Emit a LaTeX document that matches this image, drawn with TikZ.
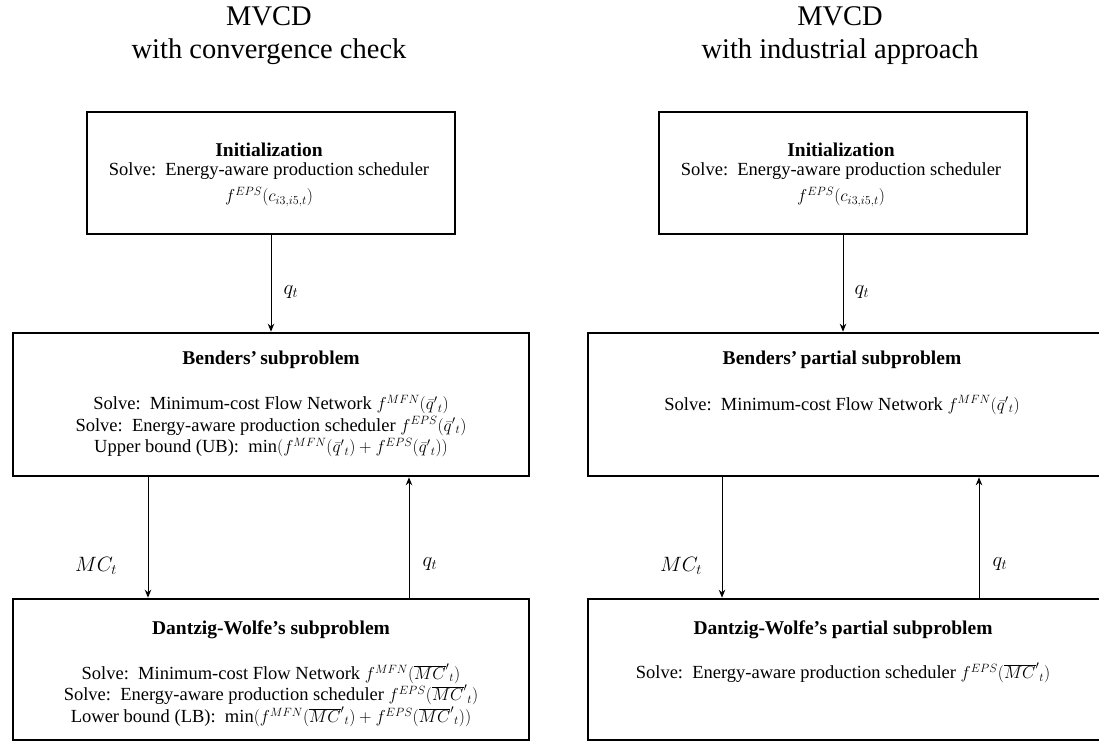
\documentclass[tikz,border=0pt]{standalone}
\usepackage{fontspec}
\setmainfont{Liberation Serif}
\usetikzlibrary{arrows.meta,calc}

\tikzset{
  box/.style={draw, line width=2.6pt, inner sep=0pt},
  ttl/.style={align=center, font=\fontsize{28.5}{33}\selectfont, inner sep=0pt},
  head/.style={font=\fontsize{19.5}{22}\selectfont\bfseries, inner sep=0pt},
  body/.style={align=center, font=\fontsize{18.5}{21.5}\selectfont, inner sep=0pt},
  lbl/.style={font=\fontsize{20}{22}\selectfont, inner sep=0pt},
  flow/.style={line width=1pt, -{Stealth[length=8pt,width=6.5pt]}}
}

\newcommand{\qb}{\bar{q}'{}_{t}}
\newcommand{\mcb}{\overline{MC}'{}_{t}}

\begin{document}
\begin{tikzpicture}[x=1pt,y=-1pt]
\clip (0,0) rectangle (1099,742);
\fill[white] (0,0) rectangle (1099,742);

% ---------------- left column: convergence check ----------------
\node[ttl] (titleL) at (269,36) {MVCD\\with convergence check};

\node[box, minimum width=368pt, minimum height=122pt] (initL) at (271,173) {};
\node[head] (initLh) at (269,150) {Initialization};
\node[body] (initLa) at (269,171) {Solve:\ \ Energy-aware production scheduler};
\node[body] (initLb) at (269,197) {$f^{EPS}(c_{i3,i5,t})$};

\node[box, minimum width=516pt, minimum height=143pt] (bendL) at (271,404.5) {};
\node[head] (bendLh) at (271,360) {Benders'\,subproblem};
\node[body] (bendLb) at (271,426) {Solve:\ \ Minimum-cost Flow Network $f^{MFN}(\qb)$\\
  Solve:\ \ Energy-aware production scheduler $f^{EPS}(\qb)$\\
  Upper bound (UB):\ \ $\min(f^{MFN}(\qb)+f^{EPS}(\qb))$};

\node[box, minimum width=516pt, minimum height=141pt] (dwL) at (271,669.5) {};
\node[head] (dwLh) at (271,630) {Dantzig-Wolfe's subproblem};
\node[body] (dwLb) at (271,695) {Solve:\ \ Minimum-cost Flow Network $f^{MFN}(\mcb)$\\
  Solve:\ \ Energy-aware production scheduler $f^{EPS}(\mcb)$\\
  Lower bound (LB):\ \ $\min(f^{MFN}(\mcb)+f^{EPS}(\mcb))$};

\draw[flow] (initL.south) -- (initL.south |- bendL.north);
\node[lbl] (q1L) at (291,292) {$q_t$};
\draw[flow] ([xshift=-123pt]bendL.south) -- ([xshift=-123pt]dwL.north);
\node[lbl] (mcL) at (96,566) {$MC_t$};
\draw[flow] ([xshift=138pt]dwL.north) -- ([xshift=138pt]bendL.south);
\node[lbl] (q2L) at (430,564) {$q_t$};

% ---------------- right column: industrial approach ----------------
\node[ttl] (titleR) at (840,36) {MVCD\\with industrial approach};

\node[box, minimum width=368pt, minimum height=122pt] (initR) at (843,173) {};
\node[head] (initRh) at (841,150) {Initialization};
\node[body] (initRa) at (841,171) {Solve:\ \ Energy-aware production scheduler};
\node[body] (initRb) at (841,197) {$f^{EPS}(c_{i3,i5,t})$};

\node[box, minimum width=516pt, minimum height=143pt] (bendR) at (846,404.5) {};
\node[head] (bendRh) at (842,360) {Benders'\,partial subproblem};
\node[body] (bendRb) at (842,405) {Solve:\ \ Minimum-cost Flow Network $f^{MFN}(\qb)$};

\node[box, minimum width=516pt, minimum height=141pt] (dwR) at (846,669.5) {};
\node[head] (dwRh) at (843,630) {Dantzig-Wolfe's partial subproblem};
\node[body] (dwRb) at (843,673) {Solve:\ \ Energy-aware production scheduler $f^{EPS}(\mcb)$};

\draw[flow] (initR.south) -- (initR.south |- bendR.north);
\node[lbl] (q1R) at (862,292) {$q_t$};
\draw[flow] ([xshift=-124pt]bendR.south) -- ([xshift=-124pt]dwR.north);
\node[lbl] (mcR) at (681,566) {$MC_t$};
\draw[flow] ([xshift=133pt]dwR.north) -- ([xshift=133pt]bendR.south);
\node[lbl] (q2R) at (1000,564) {$q_t$};
\end{tikzpicture}
\end{document}
